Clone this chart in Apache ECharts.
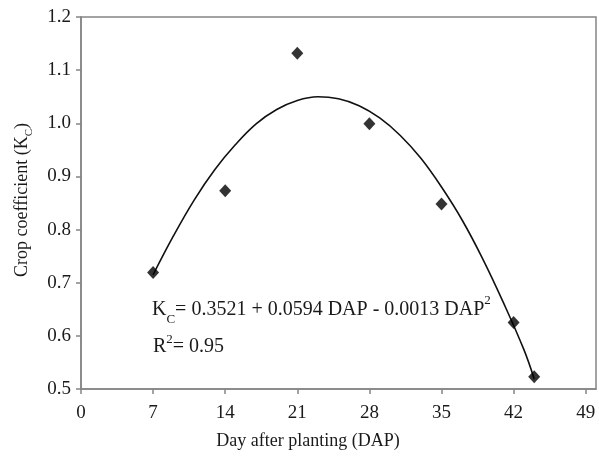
<!DOCTYPE html>
<html><head><meta charset="utf-8">
<script src="https://cdn.jsdelivr.net/npm/echarts@6/dist/echarts.min.js"></script>
<style>html,body{margin:0;padding:0;background:#fff}#c{width:599px;height:457px}</style>
</head><body><div id="c"></div>
<script>
const days = [7, 14, 21, 28, 35, 42, 44];
const kc = [0.719, 0.873, 1.132, 0.999, 0.848, 0.625, 0.523];
const curveDays = [7, 9, 11, 13, 15, 17, 19, 21, 23, 25, 27, 29, 31, 33, 35, 37, 39, 41, 43, 44];
const curveKc = [0.715, 0.789, 0.856, 0.913, 0.960, 0.999, 1.026, 1.043, 1.050, 1.046, 1.033, 1.010, 0.977, 0.934, 0.880, 0.818, 0.745, 0.663, 0.574, 0.519];
const xTicks = [0, 7, 14, 21, 28, 35, 42, 49];
const yTicks = [0.5, 0.6, 0.7, 0.8, 0.9, 1.0, 1.1, 1.2];

const FONT = '"Liberation Serif", "Times New Roman", serif';
const TXT = '#1a1a1a';
const AX = '#858585';

const chart = echarts.init(document.getElementById('c'), null, {renderer: 'canvas'});
chart.setOption({
  animation: false,
  backgroundColor: '#fff',
  grid: {left: 81, right: 3, top: 17, bottom: 68, show: true, borderColor: AX, borderWidth: 1.5, backgroundColor: 'transparent'},
  xAxis: {
    type: 'value', min: 0, max: 50, interval: 7,
    axisLine: {show: true, lineStyle: {color: AX, width: 1.5}},
    axisTick: {show: true, inside: false, length: 5, lineStyle: {color: AX, width: 1.5}, customValues: xTicks},
    axisLabel: {color: TXT, fontFamily: FONT, fontSize: 19, margin: 15, customValues: xTicks},
    splitLine: {show: false}
  },
  yAxis: {
    type: 'value', min: 0.5, max: 1.2, interval: 0.1,
    axisLine: {show: true, lineStyle: {color: AX, width: 1.5}},
    axisTick: {show: true, inside: false, length: 5, lineStyle: {color: AX, width: 1.5}, customValues: yTicks},
    axisLabel: {color: TXT, fontFamily: FONT, fontSize: 19, margin: 10, customValues: yTicks,
      formatter: v => Number(v).toFixed(1)},
    splitLine: {show: false}
  },
  series: [
    {
      type: 'line', data: curveDays.map((d, i) => [d, curveKc[i]]),
      smooth: 0.4, showSymbol: false, lineStyle: {color: '#111', width: 1.6}, z: 2
    },
    {
      type: 'scatter', data: days.map((d, i) => [d, kc[i]]),
      symbol: 'diamond', symbolSize: [12, 13], itemStyle: {color: '#000'}, z: 3
    }
  ],
  graphic: [
    {
      type: 'text', x: 308, y: 441,
      style: {text: 'Day after planting (DAP)', fill: TXT, font: '18px ' + FONT, textAlign: 'center', textVerticalAlign: 'middle'}
    },
    {
      type: 'text', x: 22, y: 200, rotation: Math.PI / 2,
      style: {
        text: 'Crop coefficient (K{sub|C})', fill: TXT, font: '18px ' + FONT,
        textAlign: 'center', textVerticalAlign: 'middle',
        rich: {sub: {fontSize: 11, fontFamily: FONT, fill: TXT, verticalAlign: 'bottom', lineHeight: 26}}
      }
    },
    {
      type: 'text', x: 152, y: 310,
      style: {
        text: 'K{sub|C}= 0.3521 + 0.0594 DAP - 0.0013 DAP{sup|2}', fill: TXT, font: '20px ' + FONT,
        textAlign: 'left', textVerticalAlign: 'middle',
        rich: {
          sub: {fontSize: 13, fontFamily: FONT, fill: TXT, verticalAlign: 'bottom', lineHeight: 32},
          sup: {fontSize: 13, fontFamily: FONT, fill: TXT, verticalAlign: 'top', lineHeight: 30}
        }
      }
    },
    {
      type: 'text', x: 153, y: 347,
      style: {
        text: 'R{sup|2}= 0.95', fill: TXT, font: '20px ' + FONT,
        textAlign: 'left', textVerticalAlign: 'middle',
        rich: {sup: {fontSize: 13, fontFamily: FONT, fill: TXT, verticalAlign: 'top', lineHeight: 28}}
      }
    }
  ]
});
</script>
</body></html>
